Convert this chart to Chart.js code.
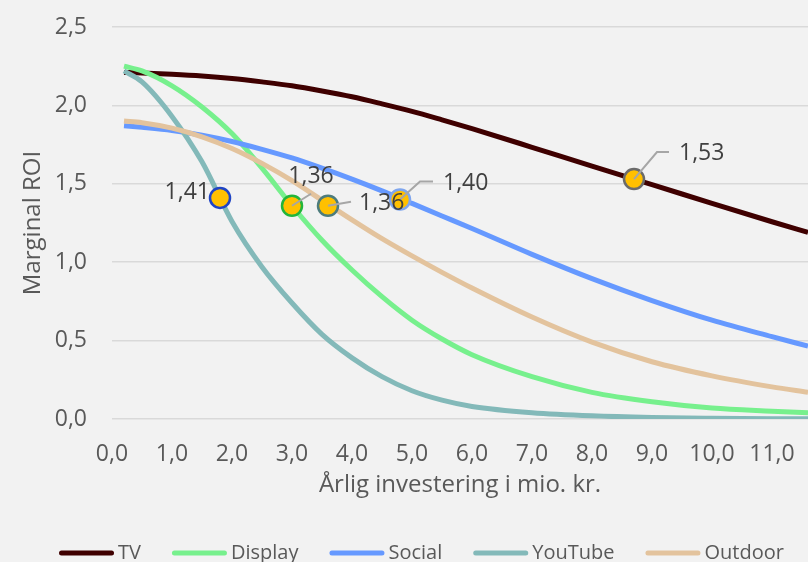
<!DOCTYPE html>
<html>
<head>
<meta charset="utf-8">
<script src="https://cdn.jsdelivr.net/npm/chart.js@4/dist/chart.umd.min.js"></script>
<style>
  html, body { margin: 0; padding: 0; background: #f2f2f2; }
  #wrap { width: 808px; height: 562px; }
</style>
</head>
<body>
<div id="wrap"><canvas id="roi" width="808" height="562"></canvas></div>
<script>
// Annual investment (mio. kr.) at which each response curve is sampled
const investment = [0.2, 0.5, 1.0, 1.5, 2.0, 2.5, 3.0, 3.5, 4.0, 4.5, 5.0, 5.5, 6.0, 7.0, 8.0, 9.0, 10.0, 11.0, 11.6];

// Marginal ROI per channel
const tvRoi      = [2.210, 2.207, 2.199, 2.188, 2.172, 2.150, 2.125, 2.092, 2.055, 2.010, 1.962, 1.908, 1.852, 1.733, 1.612, 1.495, 1.375, 1.258, 1.190];
const displayRoi = [2.250, 2.220, 2.125, 1.990, 1.820, 1.600, 1.360, 1.140, 0.950, 0.780, 0.630, 0.510, 0.410, 0.270, 0.170, 0.110, 0.070, 0.050, 0.040];
const socialRoi  = [1.870, 1.860, 1.840, 1.810, 1.770, 1.720, 1.665, 1.600, 1.530, 1.455, 1.375, 1.295, 1.215, 1.050, 0.895, 0.755, 0.630, 0.525, 0.465];
const youtubeRoi = [2.220, 2.150, 1.930, 1.640, 1.260, 0.970, 0.740, 0.540, 0.390, 0.270, 0.180, 0.120, 0.080, 0.040, 0.020, 0.010, 0.005, 0.002, 0.001];
const outdoorRoi = [1.900, 1.890, 1.855, 1.800, 1.725, 1.630, 1.520, 1.395, 1.270, 1.150, 1.040, 0.935, 0.835, 0.650, 0.490, 0.365, 0.275, 0.205, 0.170];

const channels = ['TV', 'Display', 'Social', 'YouTube', 'Outdoor'];
const channelRoi = [tvRoi, displayRoi, socialRoi, youtubeRoi, outdoorRoi];

// Current investment point per channel (same order as channels)
const currentInvestment = [8.7, 3.0, 4.8, 1.8, 3.6];
const currentRoi        = [1.53, 1.36, 1.40, 1.41, 1.36];

// Axis tick steps
const xTickStep = 1;
const yTickStep = 0.5;

// ---- styling ----
const lineColors   = ['#3f0000', '#77f08d', '#6699ff', '#83b9b9', '#e3c39d'];
const markerEdges  = ['#6b6b6b', '#22b53a', '#7fa6ee', '#1f44c4', '#4d7c7c'];
const textColor    = '#595959';
const fontFamily   = '"Open Sans", "Liberation Sans", sans-serif';

// Callout placement for each marker label: leader path (px from marker) and text anchor
const callouts = [
  { path: [[0, 0], [23, -27], [35, -27]], tx: 45, ty: -26, align: 'left' },
  { path: [[0, 0], [19, -12]],            tx: 19, ty: -29, align: 'center' },
  { path: [[0, 0], [20, -18], [33, -18]], tx: 43, ty: -16, align: 'left' },
  { path: null,                           tx: -10, ty: -5, align: 'right' },
  { path: [[0, 0], [23, -4]],             tx: 31, ty: -2, align: 'left' }
];

const comma = v => Number(v).toFixed(1).replace('.', ',');
const comma2 = v => Number(v).toFixed(2).replace('.', ',');

const datasets = channels.map((name, i) => ({
  label: name,
  data: investment.map((x, k) => ({ x: x, y: channelRoi[i][k] })),
  showLine: true,
  borderColor: lineColors[i],
  backgroundColor: lineColors[i],
  borderWidth: 5,
  pointRadius: 0,
  pointHoverRadius: 0,
  cubicInterpolationMode: 'monotone',
  order: channels.length - i
}));

datasets.push({
  label: 'current',
  data: currentInvestment.map((x, i) => ({ x: x, y: currentRoi[i] })),
  showLine: false,
  pointRadius: 10,
  pointBorderWidth: 2.5,
  pointBackgroundColor: '#ffc000',
  pointBorderColor: markerEdges,
  order: 0
});

const backgroundPlugin = {
  id: 'pageBackground',
  beforeDraw(chart) {
    const c = chart.ctx;
    c.save();
    c.fillStyle = '#f2f2f2';
    c.fillRect(0, 0, chart.width, chart.height);
    c.restore();
  }
};

const calloutPlugin = {
  id: 'callouts',
  afterDatasetsDraw(chart) {
    const idx = chart.data.datasets.length - 1;
    const meta = chart.getDatasetMeta(idx);
    const c = chart.ctx;
    c.save();
    meta.data.forEach((pt, i) => {
      const co = callouts[i];
      if (co.path) {
        c.beginPath();
        c.strokeStyle = '#a6a6a6';
        c.lineWidth = 2;
        co.path.forEach(([dx, dy], j) => {
          if (j === 0) c.moveTo(pt.x + dx, pt.y + dy);
          else c.lineTo(pt.x + dx, pt.y + dy);
        });
        c.stroke();
      }
      c.font = '23px ' + fontFamily;
      c.fillStyle = '#404040';
      c.textAlign = co.align;
      c.textBaseline = 'middle';
      c.fillText(comma2(chart.data.datasets[idx].data[i].y), pt.x + co.tx, pt.y + co.ty);
    });
    c.restore();
  }
};

const legendPlugin = {
  id: 'lineLegend',
  afterDraw(chart) {
    const c = chart.ctx;
    c.save();
    c.font = '20px ' + fontFamily;
    c.textBaseline = 'middle';
    c.textAlign = 'left';
    const y = chart.height - 9;
    let x = 59;
    chart.data.datasets.slice(0, channels.length).forEach(ds => {
      c.beginPath();
      c.lineCap = 'round';
      c.lineWidth = 5;
      c.strokeStyle = ds.borderColor;
      c.moveTo(x + 2.5, y);
      c.lineTo(x + 52.5, y);
      c.stroke();
      c.fillStyle = textColor;
      c.fillText(ds.label, x + 59, y);
      x += 59 + c.measureText(ds.label).width + 31;
    });
    c.restore();
  }
};

new Chart(document.getElementById('roi'), {
  type: 'scatter',
  data: { datasets: datasets },
  plugins: [backgroundPlugin, calloutPlugin, legendPlugin],
  options: {
    responsive: false,
    devicePixelRatio: 1,
    animation: false,
    layout: { autoPadding: false, padding: { top: 27, right: 0, bottom: 0, left: 0 } },
    plugins: {
      legend: { display: false },
      tooltip: { enabled: false }
    },
    scales: {
      x: {
        type: 'linear',
        min: 0,
        max: 11.6,
        afterFit(s) { s.height = 143; s.paddingLeft = 0; s.paddingRight = 0; },
        grid: { display: false, drawTicks: false },
        border: { display: false },
        ticks: {
          stepSize: xTickStep,
          includeBounds: false,
          padding: 22,
          color: textColor,
          font: { family: fontFamily, size: 23 },
          callback: v => comma(v)
        },
        title: {
          display: true,
          text: 'Årlig investering i mio. kr.',
          color: textColor,
          font: { family: fontFamily, size: 24 },
          padding: { top: 0, bottom: 62 }
        }
      },
      y: {
        min: 0,
        max: 2.5,
        afterFit(s) { s.width = 112; s.paddingTop = 0; s.paddingBottom = 0; },
        grid: { color: '#d9d9d9', lineWidth: 1.5, drawTicks: false },
        border: { display: false },
        ticks: {
          stepSize: yTickStep,
          padding: 25,
          color: textColor,
          font: { family: fontFamily, size: 23 },
          callback: v => comma(v)
        },
        title: {
          display: true,
          text: 'Marginal ROI',
          color: textColor,
          font: { family: fontFamily, size: 24 },
          padding: { top: 19, bottom: 0 }
        }
      }
    }
  }
});
</script>
</body>
</html>
